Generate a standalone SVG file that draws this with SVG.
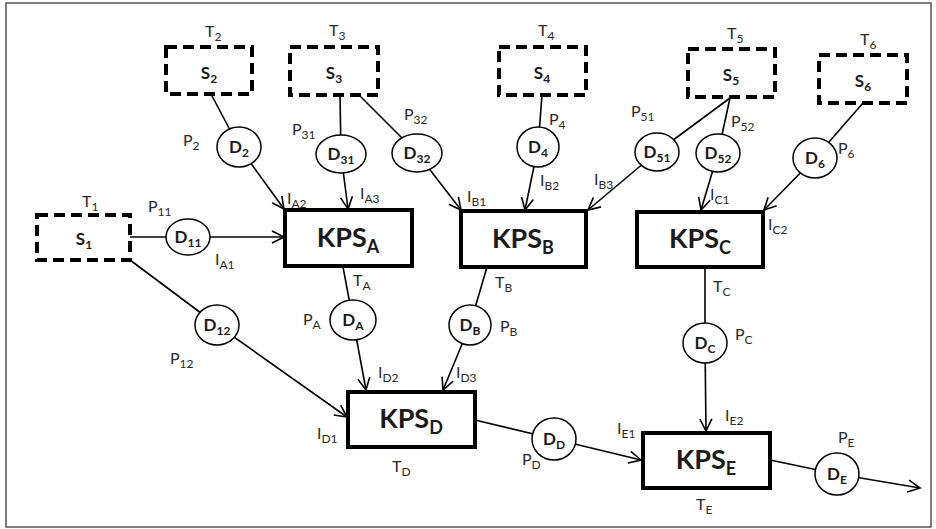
<svg xmlns="http://www.w3.org/2000/svg" width="936" height="529" viewBox="0 0 936 529">
<style>
.frame{fill:#fff;stroke:#555;stroke-width:1.5}
.src{fill:#fff;stroke:#000;stroke-width:4;stroke-dasharray:11 6}
.kps{fill:#fff;stroke:#000;stroke-width:4}
.d{fill:#fff;stroke:#000;stroke-width:1.5}
.c{stroke:#000;stroke-width:1.6;fill:none}
.a{marker-end:url(#arr)}
text{font-family:Lato,"Liberation Sans",sans-serif;fill:#1a1a1a}
.lbl{font-size:16px;fill:#2a2a2a}
.ls{font-size:12px}
.kt{font-size:27px;font-weight:bold;text-anchor:middle}
.ks{font-size:18px}
.st{font-size:17px;font-weight:bold;text-anchor:middle}
.ss{font-size:12px}
.dt{font-size:17px;font-weight:bold;text-anchor:middle}
.dsub{font-size:12px}
</style>
<defs>
<marker id="arr" markerUnits="userSpaceOnUse" markerWidth="16" markerHeight="16" refX="13" refY="7" orient="auto" viewBox="0 0 16 14">
<path d="M1,1 L13,7 L1,13" fill="none" stroke="#000" stroke-width="1.6"/>
</marker>
</defs>
<rect class="frame" x="6" y="3" width="925" height="524"/>
<g id="connectors">
<line class="c" x1="130" y1="237" x2="188" y2="237"/>
<line class="c a" x1="188" y1="237" x2="284" y2="237"/>
<line class="c" x1="130" y1="260" x2="217" y2="325"/>
<line class="c a" x1="217" y1="325" x2="347" y2="417"/>
<line class="c" x1="211" y1="94" x2="239" y2="147"/>
<line class="c a" x1="239" y1="147" x2="284" y2="209"/>
<line class="c" x1="340" y1="95" x2="341" y2="154"/>
<line class="c a" x1="341" y1="154" x2="348" y2="209"/>
<line class="c" x1="359" y1="95" x2="417" y2="153"/>
<line class="c a" x1="417" y1="153" x2="461" y2="210"/>
<line class="c" x1="542" y1="95" x2="538" y2="147"/>
<line class="c a" x1="538" y1="147" x2="525" y2="210"/>
<line class="c" x1="730" y1="98" x2="657" y2="152"/>
<line class="c a" x1="657" y1="152" x2="588" y2="210"/>
<line class="c" x1="730" y1="98" x2="718" y2="153"/>
<line class="c a" x1="718" y1="153" x2="701" y2="210"/>
<line class="c" x1="863" y1="103" x2="815" y2="158"/>
<line class="c a" x1="815" y1="158" x2="764" y2="210"/>
<line class="c" x1="343" y1="267" x2="353" y2="320"/>
<line class="c a" x1="353" y1="320" x2="366" y2="390"/>
<line class="c" x1="487" y1="267" x2="470" y2="325"/>
<line class="c a" x1="470" y1="325" x2="443" y2="390"/>
<line class="c" x1="705" y1="267" x2="705" y2="343"/>
<line class="c a" x1="705" y1="343" x2="706" y2="431"/>
<line class="c" x1="475" y1="420" x2="554" y2="439"/>
<line class="c a" x1="554" y1="439" x2="641" y2="460"/>
<line class="c" x1="770" y1="460" x2="837" y2="474"/>
<line class="c a" x1="837" y1="474" x2="920" y2="488"/>
</g>
<g id="S1"><rect class="src" x="37" y="215" width="93" height="45"/><text class="st" x="84" y="245">S<tspan class="ss" dy="4">1</tspan></text></g>
<g id="S2"><rect class="src" x="166" y="47" width="86" height="47"/><text class="st" x="209" y="79">S<tspan class="ss" dy="4">2</tspan></text></g>
<g id="S3"><rect class="src" x="290" y="47" width="88" height="48"/><text class="st" x="334" y="79">S<tspan class="ss" dy="4">3</tspan></text></g>
<g id="S4"><rect class="src" x="499" y="47" width="87" height="48"/><text class="st" x="542" y="79">S<tspan class="ss" dy="4">4</tspan></text></g>
<g id="S5"><rect class="src" x="688" y="49" width="87" height="48"/><text class="st" x="731" y="81">S<tspan class="ss" dy="4">5</tspan></text></g>
<g id="S6"><rect class="src" x="819" y="55" width="88" height="48"/><text class="st" x="863" y="87">S<tspan class="ss" dy="4">6</tspan></text></g>
<g id="KPS_A"><rect class="kps" x="285" y="210" width="127" height="56"/><text class="kt" x="348" y="247">KPS<tspan class="ks" dy="6">A</tspan></text></g>
<g id="KPS_B"><rect class="kps" x="461" y="211" width="125" height="56"/><text class="kt" x="523" y="248">KPS<tspan class="ks" dy="6">B</tspan></text></g>
<g id="KPS_C"><rect class="kps" x="637" y="212" width="126" height="55"/><text class="kt" x="700" y="248">KPS<tspan class="ks" dy="6">C</tspan></text></g>
<g id="KPS_D"><rect class="kps" x="348" y="392" width="127" height="55"/><text class="kt" x="411" y="428">KPS<tspan class="ks" dy="6">D</tspan></text></g>
<g id="KPS_E"><rect class="kps" x="643" y="433" width="127" height="55"/><text class="kt" x="706" y="469">KPS<tspan class="ks" dy="6">E</tspan></text></g>
<g id="D11"><ellipse class="d" cx="188" cy="237" rx="22" ry="18"/><text class="dt" x="188" y="243">D<tspan class="dsub" dy="4">11</tspan></text></g>
<g id="D12"><ellipse class="d" cx="217" cy="325" rx="22" ry="20"/><text class="dt" x="217" y="331">D<tspan class="dsub" dy="4">12</tspan></text></g>
<g id="D2"><ellipse class="d" cx="239" cy="147" rx="22" ry="20"/><text class="dt" x="239" y="153">D<tspan class="dsub" dy="4">2</tspan></text></g>
<g id="D31"><ellipse class="d" cx="341" cy="154" rx="25" ry="19"/><text class="dt" x="341" y="160">D<tspan class="dsub" dy="4">31</tspan></text></g>
<g id="D32"><ellipse class="d" cx="417" cy="153" rx="25" ry="19"/><text class="dt" x="417" y="159">D<tspan class="dsub" dy="4">32</tspan></text></g>
<g id="D4"><ellipse class="d" cx="538" cy="147" rx="21" ry="20"/><text class="dt" x="538" y="153">D<tspan class="dsub" dy="4">4</tspan></text></g>
<g id="D51"><ellipse class="d" cx="657" cy="152" rx="22" ry="19"/><text class="dt" x="657" y="158">D<tspan class="dsub" dy="4">51</tspan></text></g>
<g id="D52"><ellipse class="d" cx="718" cy="153" rx="22" ry="19"/><text class="dt" x="718" y="159">D<tspan class="dsub" dy="4">52</tspan></text></g>
<g id="D6"><ellipse class="d" cx="815" cy="158" rx="22" ry="20"/><text class="dt" x="815" y="164">D<tspan class="dsub" dy="4">6</tspan></text></g>
<g id="DA"><ellipse class="d" cx="353" cy="320" rx="23" ry="20"/><text class="dt" x="353" y="326">D<tspan class="dsub" dy="4">A</tspan></text></g>
<g id="DB"><ellipse class="d" cx="470" cy="325" rx="21" ry="20"/><text class="dt" x="470" y="331">D<tspan class="dsub" dy="4">B</tspan></text></g>
<g id="DC"><ellipse class="d" cx="705" cy="343" rx="22" ry="20"/><text class="dt" x="705" y="349">D<tspan class="dsub" dy="4">C</tspan></text></g>
<g id="DD"><ellipse class="d" cx="554" cy="439" rx="22" ry="21"/><text class="dt" x="554" y="445">D<tspan class="dsub" dy="4">D</tspan></text></g>
<g id="DE"><ellipse class="d" cx="837" cy="474" rx="22" ry="21"/><text class="dt" x="837" y="480">D<tspan class="dsub" dy="4">E</tspan></text></g>
<g id="labels">
<text class="lbl" x="82" y="207">T<tspan class="ls" dy="4">1</tspan></text>
<text class="lbl" x="148" y="212">P<tspan class="ls" dy="4">11</tspan></text>
<text class="lbl" x="215" y="265">I<tspan class="ls" dy="4">A1</tspan></text>
<text class="lbl" x="205" y="37">T<tspan class="ls" dy="4">2</tspan></text>
<text class="lbl" x="183" y="146">P<tspan class="ls" dy="4">2</tspan></text>
<text class="lbl" x="292" y="135">P<tspan class="ls" dy="4">31</tspan></text>
<text class="lbl" x="287" y="204">I<tspan class="ls" dy="4">A2</tspan></text>
<text class="lbl" x="360" y="199">I<tspan class="ls" dy="4">A3</tspan></text>
<text class="lbl" x="329" y="36">T<tspan class="ls" dy="4">3</tspan></text>
<text class="lbl" x="404" y="120">P<tspan class="ls" dy="4">32</tspan></text>
<text class="lbl" x="538" y="36">T<tspan class="ls" dy="4">4</tspan></text>
<text class="lbl" x="549" y="125">P<tspan class="ls" dy="4">4</tspan></text>
<text class="lbl" x="467" y="202">I<tspan class="ls" dy="4">B1</tspan></text>
<text class="lbl" x="540" y="186">I<tspan class="ls" dy="4">B2</tspan></text>
<text class="lbl" x="594" y="185">I<tspan class="ls" dy="4">B3</tspan></text>
<text class="lbl" x="727" y="39">T<tspan class="ls" dy="4">5</tspan></text>
<text class="lbl" x="631" y="117">P<tspan class="ls" dy="4">51</tspan></text>
<text class="lbl" x="731" y="127">P<tspan class="ls" dy="4">52</tspan></text>
<text class="lbl" x="860" y="45">T<tspan class="ls" dy="4">6</tspan></text>
<text class="lbl" x="838" y="154">P<tspan class="ls" dy="4">6</tspan></text>
<text class="lbl" x="710" y="200">I<tspan class="ls" dy="4">C1</tspan></text>
<text class="lbl" x="768" y="230">I<tspan class="ls" dy="4">C2</tspan></text>
<text class="lbl" x="353" y="286">T<tspan class="ls" dy="4">A</tspan></text>
<text class="lbl" x="303" y="325">P<tspan class="ls" dy="4">A</tspan></text>
<text class="lbl" x="170" y="364">P<tspan class="ls" dy="4">12</tspan></text>
<text class="lbl" x="378" y="378">I<tspan class="ls" dy="4">D2</tspan></text>
<text class="lbl" x="456" y="378">I<tspan class="ls" dy="4">D3</tspan></text>
<text class="lbl" x="317" y="439">I<tspan class="ls" dy="4">D1</tspan></text>
<text class="lbl" x="392" y="472">T<tspan class="ls" dy="4">D</tspan></text>
<text class="lbl" x="495" y="288">T<tspan class="ls" dy="4">B</tspan></text>
<text class="lbl" x="500" y="332">P<tspan class="ls" dy="4">B</tspan></text>
<text class="lbl" x="713" y="292">T<tspan class="ls" dy="4">C</tspan></text>
<text class="lbl" x="735" y="340">P<tspan class="ls" dy="4">C</tspan></text>
<text class="lbl" x="725" y="421">I<tspan class="ls" dy="4">E2</tspan></text>
<text class="lbl" x="617" y="434">I<tspan class="ls" dy="4">E1</tspan></text>
<text class="lbl" x="522" y="465">P<tspan class="ls" dy="4">D</tspan></text>
<text class="lbl" x="838" y="443">P<tspan class="ls" dy="4">E</tspan></text>
<text class="lbl" x="696" y="510">T<tspan class="ls" dy="4">E</tspan></text>
</g>
</svg>
